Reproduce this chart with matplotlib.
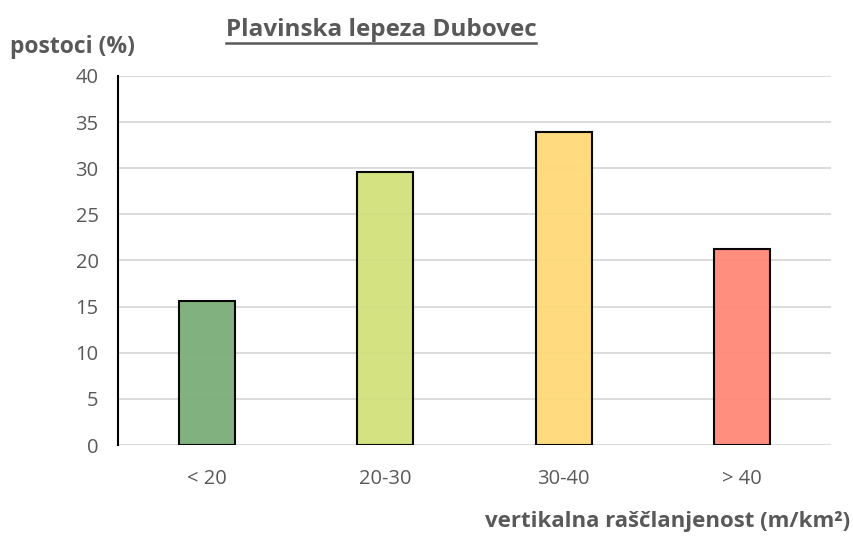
import matplotlib.pyplot as plt
from matplotlib.lines import Line2D

categories = ['< 20', '20-30', '30-40', '> 40']
values = [15.6, 29.6, 33.9, 21.2]
colors = ['#7daf7a', '#d3e17e', '#ffd97a', '#ff8a7b']

plt.rcParams['font.family'] = ['Open Sans', 'DejaVu Sans']
txt = '#595959'

fig = plt.figure(figsize=(8.54, 5.37), dpi=100)
ax = fig.add_axes([0.1382, 0.1713, 0.973 - 0.1382, 0.8585 - 0.1713])

x = range(len(categories))
ax.bar(x, values, width=0.315, color=colors, edgecolor='black', linewidth=1.5, zorder=2, alpha=0.97)

ax.set_xlim(-0.5, 3.5)
ax.set_ylim(0, 40)
ax.set_yticks(range(0, 41, 5))
ax.set_xticks(list(x))
ax.set_xticklabels(categories)
ax.tick_params(axis='both', length=0, labelsize=14.5, labelcolor=txt)
ax.tick_params(axis='y', pad=14)
ax.tick_params(axis='x', pad=17)
ax.grid(axis='y', color='#d9d9d9', linewidth=1.3, zorder=0)
ax.set_axisbelow(True)
for s in ['top', 'right', 'bottom']:
    ax.spines[s].set_visible(False)
ax.spines['left'].set_color('black')
ax.spines['left'].set_linewidth(1.5)
ax.spines['left'].set_zorder(3)

# title with underline
t = fig.text(0.446, 0.945, 'Plavinska lepeza Dubovec', ha='center', va='center',
             fontsize=17.5, fontweight='bold', color=txt)
fig.canvas.draw()
bb = t.get_window_extent().transformed(fig.transFigure.inverted())
fig.add_artist(Line2D([bb.x0, bb.x1], [bb.y0 - 0.003, bb.y0 - 0.003], color=txt, linewidth=1.8,
                      transform=fig.transFigure))

fig.text(0.012, 0.912, 'postoci (%)', ha='left', va='center', fontsize=16.5,
         fontweight='bold', color=txt)
fig.text(0.996, 0.028, 'vertikalna raščlanjenost (m/km²)', ha='right', va='center',
         fontsize=16, fontweight='bold', color=txt)

fig.savefig('out.png', dpi=100)
